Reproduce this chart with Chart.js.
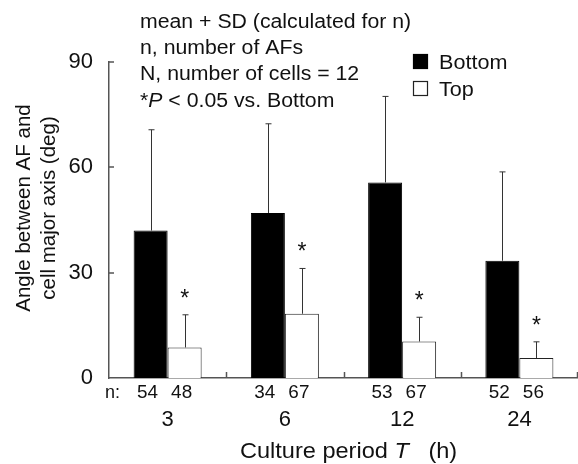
<!DOCTYPE html>
<html>
<head>
<meta charset="utf-8">
<script src="https://cdn.jsdelivr.net/npm/chart.js@4.4.1/dist/chart.umd.min.js"></script>
<style>
  html, body { margin: 0; padding: 0; background: #fff; }
  #wrap { width: 578px; height: 464px; }
</style>
</head>
<body>
<div id="wrap"><canvas id="chart" width="578" height="464"></canvas></div>
<script>
// Culture period T (h)
const CATEGORIES = ['3', '6', '12', '24'];
// angle between AF and cell major axis (deg), mean and SD
const BOTTOM_MEAN = [42.0, 47.0, 55.7, 33.4];
const BOTTOM_SD = [28.7, 25.4, 24.5, 25.3];
const TOP_MEAN = [8.7, 18.3, 10.4, 5.7];
const TOP_SD = [9.3, 12.9, 6.9, 4.6];
// n, number of AFs
const N_BOTTOM = ['54', '34', '53', '52'];
const N_TOP = ['48', '67', '67', '56'];
// *P < 0.05 vs. Bottom
const TOP_SIGNIFICANT = [true, true, true, true];
const Y_MAX = 90;
const Y_STEP = 30;

const NOTE_LINES = [
  'mean + SD (calculated for n)',
  'n, number of AFs',
  'N, number of cells = 12',
];

const FONT = '"Liberation Sans", Arial, sans-serif';
const TEXT = '#111';
const AXIS = '#555';

function text(ctx, str, x, y, size, opts = {}) {
  ctx.save();
  ctx.font = `${opts.italic ? 'italic ' : ''}${size}px ${FONT}`;
  ctx.fillStyle = TEXT;
  ctx.textAlign = opts.align || 'left';
  ctx.textBaseline = 'alphabetic';
  ctx.translate(x, y);
  if (opts.rotate) ctx.rotate(opts.rotate);
  if (opts.sx) ctx.scale(opts.sx, 1);
  ctx.fillText(str, 0, 0);
  const w = ctx.measureText(str).width * (opts.sx || 1);
  ctx.restore();
  return w;
}

// error bars, stars, inside ticks and all the loose text
const decorations = {
  id: 'decorations',
  afterDatasetsDraw(chart) {
    const { ctx, chartArea, scales } = chart;
    const x = scales.x;
    const y = scales.y;
    const sds = [BOTTOM_SD, TOP_SD];
    const means = [BOTTOM_MEAN, TOP_MEAN];

    ctx.save();
    ctx.strokeStyle = '#333';
    ctx.lineWidth = 1;
    chart.data.datasets.forEach((ds, di) => {
      chart.getDatasetMeta(di).data.forEach((bar, i) => {
        const top = y.getPixelForValue(means[di][i] + sds[di][i]);
        const bx = Math.round(bar.x) + 0.5;
        ctx.beginPath();
        ctx.moveTo(bx, bar.y);
        ctx.lineTo(bx, top);
        ctx.moveTo(bx - 3, top);
        ctx.lineTo(bx + 3, top);
        ctx.stroke();
        if (di === 1 && TOP_SIGNIFICANT[i]) {
          text(ctx, '*', bar.x, top - 9, 23, { align: 'center' });
        }
      });
    });
    ctx.restore();

    // inside ticks
    ctx.save();
    ctx.strokeStyle = AXIS;
    ctx.lineWidth = 1.5;
    ctx.beginPath();
    for (let v = Y_STEP; v <= Y_MAX; v += Y_STEP) {
      const py = Math.round(y.getPixelForValue(v));
      ctx.moveTo(chartArea.left, py);
      ctx.lineTo(chartArea.left + 5, py);
    }
    const half = (x.getPixelForTick(1) - x.getPixelForTick(0)) / 2;
    CATEGORIES.forEach((c, i) => {
      const px = Math.min(Math.round(x.getPixelForTick(i) + half), chart.width - 1) + 0.5;
      ctx.moveTo(px, chartArea.bottom);
      ctx.lineTo(px, chartArea.bottom - 6);
    });
    ctx.stroke();
    ctx.restore();

    // n values under the bars
    text(ctx, 'n:', 105, 398, 18);
    const metaB = chart.getDatasetMeta(0).data;
    const metaT = chart.getDatasetMeta(1).data;
    CATEGORIES.forEach((c, i) => {
      text(ctx, N_BOTTOM[i], metaB[i].x - 3, 398, 18, { align: 'center', sx: 1.05 });
      text(ctx, N_TOP[i], metaT[i].x - 3, 398, 18, { align: 'center', sx: 1.05 });
    });

    // x title with italic T
    let tx = 240;
    tx += text(ctx, 'Culture period ', tx, 458, 22, { sx: 1.07 });
    tx += text(ctx, 'T', tx, 458, 22, { italic: true, sx: 1.07 });
    text(ctx, '   (h)', tx, 458, 22, { sx: 1.07 });

    // y title, two rotated lines
    text(ctx, 'Angle between AF and', 30, 208, 20.5, { align: 'center', rotate: -Math.PI / 2 });
    text(ctx, 'cell major axis (deg)', 55, 208, 20.5, { align: 'center', rotate: -Math.PI / 2 });

    // notes
    NOTE_LINES.forEach((l, i) => text(ctx, l, 140, 28 + i * 26, 19.5, { sx: 1.09 }));
    let nx = 140;
    nx += text(ctx, '*', nx, 107, 19.5, { sx: 1.09 });
    nx += text(ctx, 'P', nx, 107, 19.5, { italic: true, sx: 1.09 });
    text(ctx, ' < 0.05 vs. Bottom', nx, 107, 19.5, { sx: 1.09 });

    // legend
    chart.data.datasets.forEach((ds, di) => {
      const ly = 54 + di * 27;
      ctx.save();
      ctx.fillStyle = ds.backgroundColor;
      ctx.fillRect(413, ly, 15, 15);
      ctx.strokeStyle = ds.borderColor;
      ctx.lineWidth = 1.2;
      ctx.strokeRect(413.5, ly + 0.5, 14, 14);
      ctx.restore();
      text(ctx, ds.label, 439, ly + 15, 20, { sx: 1.08 });
    });
  },
};

new Chart(document.getElementById('chart'), {
  type: 'bar',
  data: {
    labels: CATEGORIES,
    datasets: [
      {
        label: 'Bottom',
        data: BOTTOM_MEAN,
        backgroundColor: '#000',
        borderColor: '#000',
        borderWidth: 1,
      },
      {
        label: 'Top',
        data: TOP_MEAN,
        backgroundColor: '#fff',
        borderColor: '#222',
        borderWidth: 1,
      },
    ],
  },
  options: {
    responsive: false,
    devicePixelRatio: 1,
    animation: false,
    categoryPercentage: 0.58,
    barPercentage: 1,
    layout: { padding: { top: 62, right: 0, left: 0, bottom: 0 } },
    plugins: {
      legend: { display: false },
      tooltip: { enabled: false },
    },
    scales: {
      x: {
        grid: { display: false, drawTicks: false },
        border: { display: true, color: AXIS, width: 1.5 },
        ticks: { color: TEXT, font: { family: FONT, size: 22 }, padding: 29 },
        afterFit: (s) => { s.height = 86; },
      },
      y: {
        min: 0,
        max: Y_MAX,
        grid: { display: false, drawTicks: false },
        border: { display: true, color: AXIS, width: 1.5 },
        ticks: { stepSize: Y_STEP, color: TEXT, font: { family: FONT, size: 22 }, padding: 16 },
        afterFit: (s) => { s.width = 109; },
      },
    },
  },
  plugins: [decorations],
});
</script>
</body>
</html>
